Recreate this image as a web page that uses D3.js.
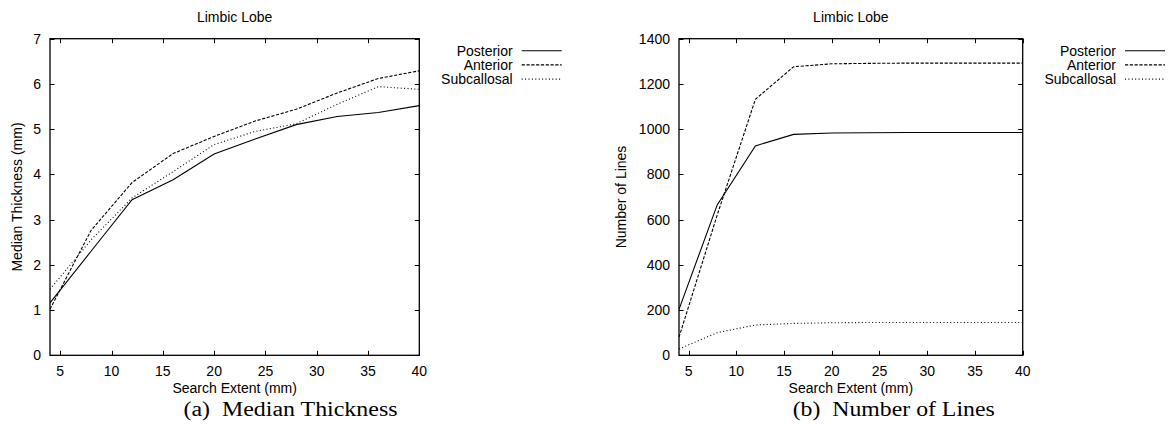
<!DOCTYPE html>
<html>
<head>
<meta charset="utf-8">
<script src="https://cdn.jsdelivr.net/npm/d3@7"></script>
<style>
  html, body { margin: 0; padding: 0; background: #fff; }
  svg { display: block; }
  text { font-family: "Liberation Sans", Arial, Helvetica, sans-serif; fill: #000; }
  .caption { font-family: "Liberation Serif", "DejaVu Serif", serif; }
</style>
</head>
<body>
<svg id="chart" width="1171" height="424"></svg>
<script>
// ---- data ----
const extent = [4, 8, 12, 16, 20, 24, 28, 32, 36, 40];
const seriesNames = ["Posterior", "Anterior", "Subcallosal"];

const thickPosterior   = [1.16, 2.30, 3.44, 3.88, 4.45, 4.78, 5.10, 5.28, 5.37, 5.52];
const thickAnterior    = [1.02, 2.76, 3.82, 4.46, 4.84, 5.18, 5.44, 5.80, 6.12, 6.29];
const thickSubcallosal = [1.46, 2.55, 3.48, 4.06, 4.66, 4.95, 5.12, 5.55, 5.94, 5.88];

const linesPosterior   = [203, 665, 926, 977, 983, 984, 985, 985, 985, 985];
const linesAnterior    = [80, 620, 1132, 1276, 1289, 1291, 1292, 1292, 1292, 1292];
const linesSubcallosal = [28, 100, 134, 141, 144, 145, 145, 145, 145, 145];

const xTicks = [5, 10, 15, 20, 25, 30, 35, 40];
const thickTicks = [0, 1, 2, 3, 4, 5, 6, 7];
const linesTicks = [0, 200, 400, 600, 800, 1000, 1200, 1400];

const titles = ["Limbic Lobe", "Limbic Lobe"];
const xLabel = "Search Extent (mm)";
const yLabels = ["Median Thickness (mm)", "Number of Lines"];
const captions = ["(a)\u00A0\u00A0Median Thickness", "(b)\u00A0\u00A0Number of Lines"];

// ---- drawing ----
const svg = d3.select("#chart");
const dashes = [null, "3.2,1.6", "1,2.4"];
const fs = 14;

function panel(opts) {
  const g = svg.append("g");
  const x = d3.scaleLinear().domain([4, 40]).range([opts.left, opts.right]);
  const y = d3.scaleLinear().domain(opts.yDomain).range([opts.bottom, opts.top]);
  const tl = 4.5;

  // ticks (inward, mirrored)
  const tg = g.append("g").attr("stroke", "#000").attr("stroke-width", 1);
  xTicks.forEach(v => {
    const px = Math.round(x(v)) + 0.5;
    tg.append("line").attr("x1", px).attr("x2", px).attr("y1", opts.bottom).attr("y2", opts.bottom - tl);
    tg.append("line").attr("x1", px).attr("x2", px).attr("y1", opts.top).attr("y2", opts.top + tl);
  });
  opts.yTicks.forEach(v => {
    const py = Math.round(y(v)) + 0.5;
    tg.append("line").attr("x1", opts.left).attr("x2", opts.left + tl).attr("y1", py).attr("y2", py);
    tg.append("line").attr("x1", opts.right).attr("x2", opts.right - tl).attr("y1", py).attr("y2", py);
  });

  // tick labels
  xTicks.forEach(v => {
    g.append("text").attr("x", x(v)).attr("y", opts.bottom + 21)
      .attr("text-anchor", "middle").attr("font-size", fs).text(v);
  });
  opts.yTicks.forEach(v => {
    g.append("text").attr("x", opts.left - 9).attr("y", y(v) + 5)
      .attr("text-anchor", "end").attr("font-size", fs).text(v);
  });

  // series
  const line = d3.line().x((d, i) => x(extent[i])).y(d => y(d));
  opts.series.forEach((s, k) => {
    g.append("path").datum(s).attr("d", line)
      .attr("fill", "none").attr("stroke", "#000").attr("stroke-width", 1.1)
      .attr("stroke-dasharray", dashes[k]);
  });

  // border
  g.append("rect").attr("x", opts.left).attr("y", opts.top)
    .attr("width", opts.right - opts.left).attr("height", opts.bottom - opts.top)
    .attr("fill", "none").attr("stroke", "#000").attr("stroke-width", 1.3);

  // title & labels
  const cx = (opts.left + opts.right) / 2;
  g.append("text").attr("x", cx).attr("y", 22).attr("text-anchor", "middle")
    .attr("font-size", fs).text(opts.title);
  g.append("text").attr("x", cx).attr("y", opts.bottom + 38).attr("text-anchor", "middle")
    .attr("font-size", fs).text(xLabel);
  g.append("text").attr("transform", `translate(${opts.yLabelX},${(opts.top + opts.bottom) / 2}) rotate(-90)`)
    .attr("text-anchor", "middle").attr("font-size", fs).text(opts.yLabel);

  // legend
  seriesNames.forEach((n, k) => {
    const by = 55.7 + k * 14.2;
    g.append("text").attr("x", opts.legendX).attr("y", by).attr("text-anchor", "end")
      .attr("font-size", fs).text(n);
    g.append("line").attr("x1", opts.legendX + 9).attr("x2", opts.legendX + 49)
      .attr("y1", by - 5).attr("y2", by - 5)
      .attr("stroke", "#000").attr("stroke-width", 1.1).attr("stroke-dasharray", dashes[k]);
  });

  // caption
  g.append("text").attr("class", "caption").attr("x", opts.captionX).attr("y", 416)
    .attr("font-size", 20).attr("textLength", opts.captionW).attr("lengthAdjust", "spacingAndGlyphs")
    .text(opts.caption);
}

panel({
  left: 50, right: 419.3, top: 38.7, bottom: 355.3,
  yDomain: [0, 7], yTicks: thickTicks,
  series: [thickPosterior, thickAnterior, thickSubcallosal],
  title: titles[0], yLabel: yLabels[0], yLabelX: 22,
  legendX: 512.7, caption: captions[0], captionX: 183.5, captionW: 214
});

panel({
  left: 679, right: 1022.7, top: 38.7, bottom: 355.3,
  yDomain: [0, 1400], yTicks: linesTicks,
  series: [linesPosterior, linesAnterior, linesSubcallosal],
  title: titles[1], yLabel: yLabels[1], yLabelX: 626,
  legendX: 1116, caption: captions[1], captionX: 792.7, captionW: 202
});
</script>
</body>
</html>
